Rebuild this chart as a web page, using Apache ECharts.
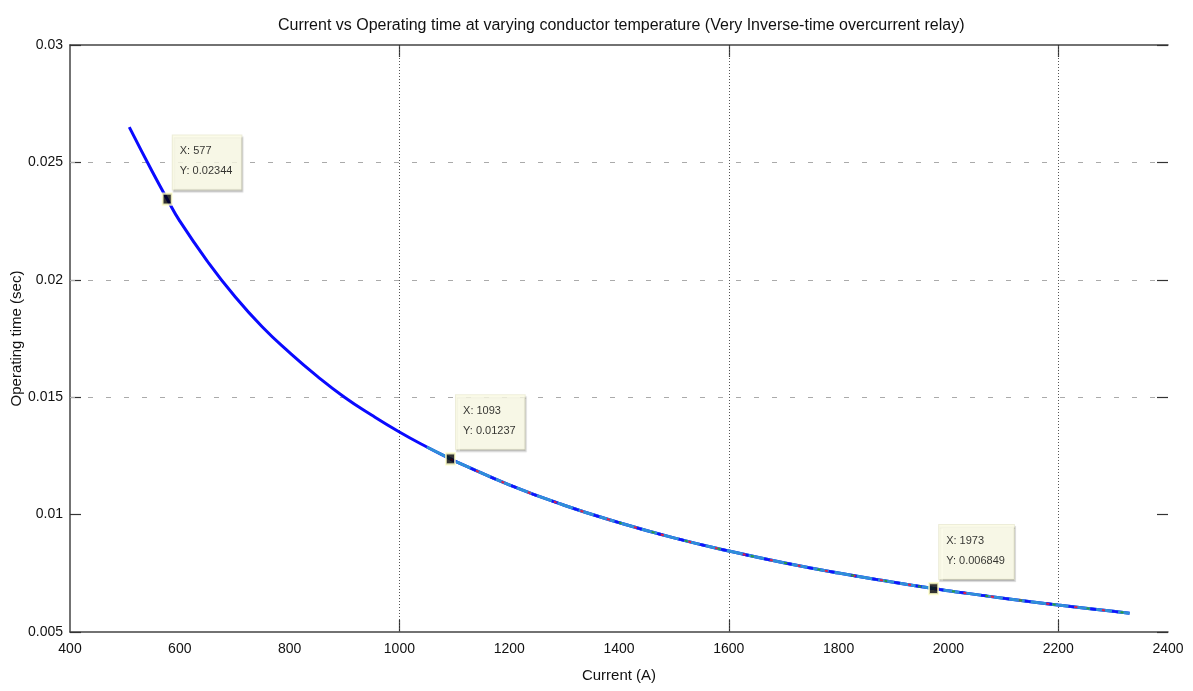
<!DOCTYPE html>
<html>
<head>
<meta charset="utf-8">
<script src="https://cdn.jsdelivr.net/npm/echarts@6/dist/echarts.min.js"></script>
<style>
  html, body { margin: 0; padding: 0; background: #fff; }
  #main { width: 1193px; height: 691px; }
</style>
</head>
<body>
<div id="main"></div>
<script>
    'use strict';

    // current (A) and operating time (sec)
    var current = [508, 550, 577, 600, 650, 700, 750, 800, 850, 900, 950, 1000, 1050, 1093, 1100, 1200, 1300,
        1400, 1500, 1600, 1700, 1800, 1900, 1973, 2000, 2100, 2200, 2300, 2330];
    var opTime = [0.0265, 0.0246, 0.02344, 0.0225, 0.0208, 0.0193, 0.0180, 0.0169, 0.0159, 0.0150, 0.01423,
        0.01352, 0.01288, 0.01237, 0.01229, 0.01127, 0.0104, 0.00966, 0.00901, 0.00845, 0.00795, 0.00751,
        0.00712, 0.006849, 0.00676, 0.00644, 0.00615, 0.00588, 0.0058];

    // data tips
    var tipX = [577, 1093, 1973];
    var tipY = [0.02344, 0.01237, 0.006849];
    var tipText = ['X: 577\nY: 0.02344', 'X: 1093\nY: 0.01237', 'X: 1973\nY: 0.006849'];

    // grid lines that show in the picture
    var gridX = [1000, 1600, 2200];
    var gridY = [0.025, 0.02, 0.015];

    var font = "'Liberation Sans', Arial, sans-serif";

    function pairs(from) {
        var out = [];
        current.forEach(function (c, i) {
            if (c >= from) {
                out.push([c, opTime[i]]);
            }
        });
        return out;
    }

    var markLines = [];
    gridX.forEach(function (v) {
        markLines.push({ xAxis: v, lineStyle: { color: '#555', type: [1, 2], width: 1 } });
    });
    gridY.forEach(function (v) {
        markLines.push({ yAxis: v, lineStyle: { color: '#aaa', type: [5, 13], width: 1 } });
    });

    var tips = tipX.map(function (x, i) {
        return { value: [x, tipY[i]], text: tipText[i] };
    });

    var xTick = { show: true, inside: true, length: 12, customValues: gridX, lineStyle: { color: '#333', width: 1.2 } };
    var yTick = { show: true, inside: true, length: 11, lineStyle: { color: '#333', width: 1.2 } };

    var chart = echarts.init(document.getElementById('main'));
    chart.setOption({
        animation: false,
        backgroundColor: '#fff',
        title: {
            text: 'Current vs Operating time at varying conductor temperature (Very Inverse-time overcurrent relay)',
            left: 273,
            top: 13,
            textStyle: { fontFamily: font, fontSize: 16, fontWeight: 'normal', color: '#111' }
        },
        grid: { left: 70, right: 25, top: 45, bottom: 59, containLabel: false, outerBoundsMode: 'none' },
        xAxis: [{
            type: 'value',
            min: 400,
            max: 2400,
            interval: 200,
            name: 'Current (A)',
            nameLocation: 'middle',
            nameGap: 36,
            nameMoveOverlap: false,
            nameTextStyle: { fontFamily: font, fontSize: 15, color: '#111' },
            axisLine: { show: true, lineStyle: { color: '#444', width: 1.5 } },
            axisTick: xTick,
            axisLabel: {
                fontFamily: font, fontSize: 14, color: '#111', margin: 10,
                formatter: function (v) { return String(v); }
            },
            splitLine: { show: false }
        }, {
            type: 'value',
            position: 'top',
            min: 400,
            max: 2400,
            interval: 200,
            axisLine: { show: true, lineStyle: { color: '#444', width: 1.5 } },
            axisTick: xTick,
            axisLabel: { show: false },
            splitLine: { show: false }
        }],
        yAxis: [{
            type: 'value',
            min: 0.005,
            max: 0.03,
            interval: 0.005,
            name: 'Operating time (sec)',
            nameLocation: 'middle',
            nameGap: 46,
            nameMoveOverlap: false,
            nameTextStyle: { fontFamily: font, fontSize: 15, color: '#111' },
            axisLine: { show: true, lineStyle: { color: '#444', width: 1.5 } },
            axisTick: yTick,
            axisLabel: {
                fontFamily: font, fontSize: 14, color: '#111', margin: 7,
                formatter: function (v) { return String(+v.toFixed(4)); }
            },
            splitLine: { show: false }
        }, {
            type: 'value',
            position: 'right',
            min: 0.005,
            max: 0.03,
            interval: 0.005,
            axisLine: { show: false },
            axisTick: yTick,
            axisLabel: { show: false },
            splitLine: { show: false }
        }],
        series: [{
            name: 'blue',
            type: 'line',
            data: pairs(0),
            showSymbol: false,
            smooth: true,
            lineStyle: { color: '#0a0aff', width: 3 },
            z: 2,
            markLine: {
                silent: true,
                symbol: 'none',
                precision: 6,
                label: { show: false },
                data: markLines,
                z: 1
            }
        }, {
            name: 'cyan',
            type: 'line',
            data: pairs(1050),
            showSymbol: false,
            smooth: true,
            lineStyle: { color: '#2f8fd8', width: 3 },
            z: 3
        }, {
            name: 'blue dashes',
            type: 'line',
            data: pairs(1093),
            showSymbol: false,
            smooth: true,
            lineStyle: { color: '#1010ff', width: 2.5, type: [6, 16] },
            z: 4
        }, {
            name: 'red',
            type: 'line',
            data: pairs(1093),
            showSymbol: false,
            smooth: true,
            lineStyle: { color: '#e0204a', width: 2, type: [3, 25] },
            z: 5
        }, {
            name: 'green',
            type: 'line',
            data: pairs(1400),
            showSymbol: false,
            smooth: true,
            lineStyle: { color: '#2a9a40', width: 2, type: [3, 31] },
            z: 5
        }, {
            name: 'tips',
            type: 'scatter',
            data: tips,
            symbol: 'rect',
            symbolSize: [9, 11],
            itemStyle: { color: '#000', borderColor: '#ffffc8', borderWidth: 2 },
            z: 10,
            label: {
                show: true,
                position: [11, -57],
                formatter: function (p) { return p.data.text; },
                fontFamily: font,
                fontSize: 11,
                lineHeight: 20,
                color: '#000',
                backgroundColor: '#ffffea',
                borderColor: '#e8e8d0',
                borderWidth: 1,
                padding: [6, 9, 8, 7],
                shadowColor: 'rgba(0,0,0,0.2)',
                shadowOffsetX: 1,
                shadowOffsetY: 2,
                shadowBlur: 1
            }
        }]
    });
</script>
</body>
</html>
